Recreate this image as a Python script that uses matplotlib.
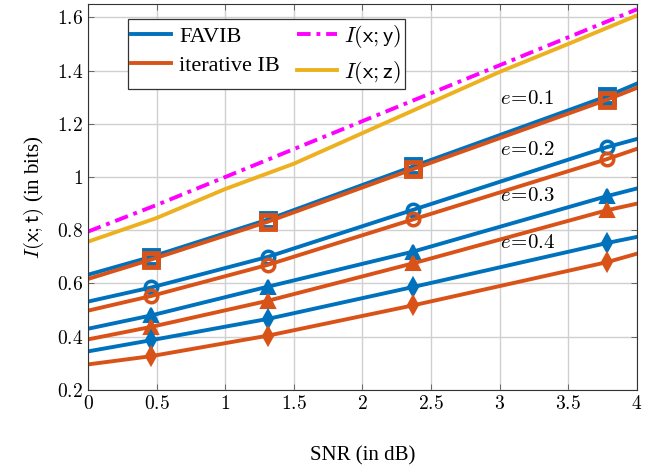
import numpy as np
import matplotlib
matplotlib.use("Agg")
import matplotlib.pyplot as plt

plt.rcParams['font.family'] = ['Liberation Serif', 'DejaVu Serif']
plt.rcParams['mathtext.fontset'] = 'cm'

# SNR (dB) points of the IB curves, markers on the inner four
snr = [0, 0.46, 1.31, 2.37, 3.78, 4.0]
favib = {
    0.1: [0.633, 0.700, 0.840, 1.040, 1.303, 1.351],
    0.2: [0.532, 0.585, 0.700, 0.877, 1.112, 1.143],
    0.3: [0.430, 0.480, 0.588, 0.720, 0.928, 0.957],
    0.4: [0.345, 0.387, 0.467, 0.587, 0.752, 0.775],
}
iter_ib = {
    0.1: [0.617, 0.690, 0.832, 1.030, 1.290, 1.335],
    0.2: [0.498, 0.553, 0.670, 0.841, 1.067, 1.106],
    0.3: [0.390, 0.437, 0.535, 0.676, 0.875, 0.900],
    0.4: [0.296, 0.327, 0.404, 0.518, 0.680, 0.712],
}
markers = {0.1: 's', 0.2: 'o', 0.3: '^', 0.4: 'd'}

# upper bounds
snr_fine = [0, 0.5, 1.0, 1.5, 2.0, 2.5, 3.0, 3.5, 4.0]
i_xy = [0.795, 0.895, 1.000, 1.105, 1.210, 1.315, 1.420, 1.525, 1.630]
i_xz = [0.757, 0.846, 0.955, 1.050, 1.165, 1.280, 1.395, 1.500, 1.607]

xticks = [0, 0.5, 1, 1.5, 2, 2.5, 3, 3.5, 4]
yticks = [0.2, 0.4, 0.6, 0.8, 1, 1.2, 1.4, 1.6]

blue = '#0072bd'
orange = '#d95319'

fig = plt.figure(figsize=(6.45, 4.68), dpi=100)
ax = fig.add_axes([0.1364, 0.1667, 0.8512, 0.8248])

h_fav = h_it = None
for e in [0.1, 0.2, 0.3, 0.4]:
    m = markers[e]
    if m == 's':
        style = dict(mfc='none', ms=10, mew=3.5)
    elif m == 'o':
        style = dict(mfc='none', ms=9, mew=2.5)
    else:
        style = dict(ms=10 if m == '^' else 9, mew=1.5)
    kw = dict(marker=m, markevery=[1, 2, 3, 4], lw=2.8, **style)
    l1, = ax.plot(snr, favib[e], color=blue, **kw)
    l2, = ax.plot(snr, iter_ib[e], color=orange, **kw)
    if h_fav is None:
        h_fav, h_it = l1, l2

l3, = ax.plot(snr_fine, i_xy, color='#ff00ff', lw=2.8, ls=(0, (3.5, 1.5, 1, 1.5)))
l4, = ax.plot(snr_fine, i_xz, color='#edb120', lw=2.8)

for e, (tx, ty) in zip([0.1, 0.2, 0.3, 0.4], [(3.2, 1.29), (3.2, 1.10), (3.2, 0.925), (3.2, 0.75)]):
    ax.text(tx, ty, r'$e\!=\!%s$' % e, fontsize=15, ha='center', va='center')

ax.set_xlim(0, 4)
ax.set_ylim(0.2, 1.65)
ax.set_xticks(xticks, labels=[r'$%s$' % t for t in xticks])
ax.set_yticks(yticks, labels=[r'$%s$' % t for t in yticks])
ax.tick_params(direction='in', top=True, right=True, labelsize=14, length=4, width=0.6, color='#555555')
ax.grid(True, color='#d0d0d0', lw=1)
ax.set_axisbelow(True)
for s in ax.spines.values():
    s.set_color('#333333')

ax.set_xlabel('SNR (in dB)', fontsize=15, labelpad=24)
ax.set_ylabel(r'$I(\mathsf{x};\mathsf{t})$ (in bits)', fontsize=15, labelpad=8)

leg = ax.legend([h_fav, h_it, l3, l4],
                ['FAVIB', 'iterative IB', r'$I(\mathsf{x};\mathsf{y})$', r'$I(\mathsf{x};\mathsf{z})$'],
                ncol=2, loc='upper left', bbox_to_anchor=(0.073, 0.96), borderaxespad=0,
                fontsize=16, fancybox=False, edgecolor='#333333', framealpha=1,
                handlelength=1.8, columnspacing=0.75, borderpad=0.15, labelspacing=0.4,
                handletextpad=0.35)
leg.get_frame().set_linewidth(0.9)
for h in leg.legend_handles:
    h.set_marker('')

fig.savefig('out.png', dpi=100)
plt.close(fig)
